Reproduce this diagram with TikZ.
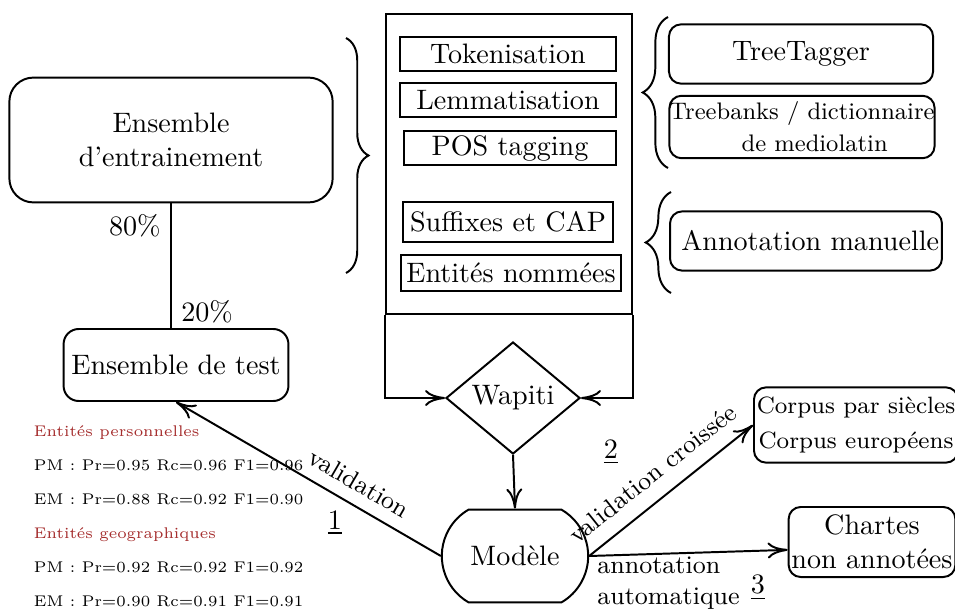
\documentclass[tikz,border=0pt]{standalone}
\usetikzlibrary{shapes.geometric,shapes.misc,decorations.pathreplacing,arrows.meta}
\definecolor{entred}{RGB}{165,45,45}

\begin{document}
\begin{tikzpicture}[x=0.0125cm, y=-0.0125cm, line width=0.7pt, >={To[length=2.5mm,width=2mm]},
  setbox/.style={draw, rounded corners=0.15cm, align=center, inner sep=1pt},
  stepbox/.style={draw, rectangle, minimum width=2.7cm, minimum height=0.42cm, inner sep=1pt},
  bracegrp/.style={decorate, decoration={brace, amplitude=#1}}]
  \useasboundingbox (0,0) rectangle (955,610);

  \node[setbox, rounded corners=0.3cm, minimum width=4.04cm, minimum height=1.56cm] (train) at (171,140) {Ensemble\\d'entrainement};
  \node[setbox, rounded corners=0.19cm, minimum width=2.81cm, minimum height=0.9cm] (test) at (176,365) {Ensemble de test};
  \draw (train.south) -- (train.south |- test.north) node[pos=0.18, left] {80\%} node[pos=0.87, right] {20\%};

  \node[draw, rectangle, minimum width=3.075cm, minimum height=3.75cm] (pipeline) at (509,164) {};
  \node[stepbox] (tok) at (508,54) {Tokenisation};
  \node[stepbox] (lemma) at (508,100) {Lemmatisation};
  \node[stepbox, minimum width=2.66cm] (postag) at (510,148) {POS tagging};
  \node[stepbox, minimum width=2.62cm, minimum height=0.5cm] (suffix) at (508,222) {Suffixes et CAP};
  \node[stepbox, minimum width=2.75cm, minimum height=0.45cm] (ner) at (511,273) {Entités nommées};

  \draw[bracegrp=8pt] (346,38) -- (346,273);
  \draw[bracegrp=9pt] (668,168) -- (668,17);
  \draw[bracegrp=9pt] (671,293) -- (671,192);

  \node[setbox, minimum width=3.3cm, minimum height=0.74cm] (treetagger) at (801,54) {TreeTagger};
  \node[setbox, minimum width=3.31cm, minimum height=0.78cm, inner sep=0pt, font=\fontsize{8.5}{11.4}\selectfont] (treebanks) at (802,127) {Treebanks / dictionnaire\\\hspace*{9pt}de mediolatin};
  \node[setbox, minimum width=3.3cm, minimum height=0.74cm] (manual) at (806,241) {\hspace*{3pt}Annotation manuelle};

  \node[draw, diamond, aspect=1.2, inner sep=0pt, minimum width=1.675cm, minimum height=1.4cm] (wapiti) at (513,398) {Wapiti};
  \node[draw, rounded rectangle, rounded rectangle arc length=120, inner xsep=3pt, minimum width=2.04cm, minimum height=1.16cm] (model) at (515,556) {Modèle};
  \draw[->] (pipeline.south west) |- (wapiti.west);
  \draw[->] (pipeline.south east) |- (wapiti.east);
  \draw[->] (wapiti.south) -- (model.north);

  \node[setbox, minimum width=2.41cm, minimum height=0.94cm, font=\fontsize{8.4}{12.4}\selectfont] (corpus) at (856,425) {Corpus par siècles\\Corpus européens};
  \node[setbox, minimum width=2.01cm, minimum height=0.875cm] (charters) at (872,542) {Chartes\\non annotées};

  \draw[->] (model.west) -- (test.south) node[pos=0.35, sloped, above=1pt, font=\small] {validation} node[pos=0.4, below=2pt] {\underline{1}};
  \draw[->] (model.east) -- (corpus.west) node[pos=0.48, sloped, above=2pt, font=\small] {validation croissée};
  \node (two) at (611,452) {\underline{2}};
  \draw[->] (model.east) -- ([yshift=-2.8pt]charters.west) node[pos=0.4, below, align=left, inner sep=1pt, font=\fontsize{9}{11}\selectfont] {annotation\\automatique} node[pos=0.85, below=5pt] {\underline{3}};

  \node[anchor=north west, inner sep=0pt, align=left, font=\fontsize{5.5}{12.1}\selectfont] (scores) at (33,425) {\textcolor{entred}{Entités personnelles}\\PM : Pr=0.95 Rc=0.96 F1=0.96\\EM : Pr=0.88 Rc=0.92 F1=0.90\\\textcolor{entred}{Entités geographiques}\\PM : Pr=0.92 Rc=0.92 F1=0.92\\EM : Pr=0.90 Rc=0.91 F1=0.91};
\end{tikzpicture}
\end{document}
